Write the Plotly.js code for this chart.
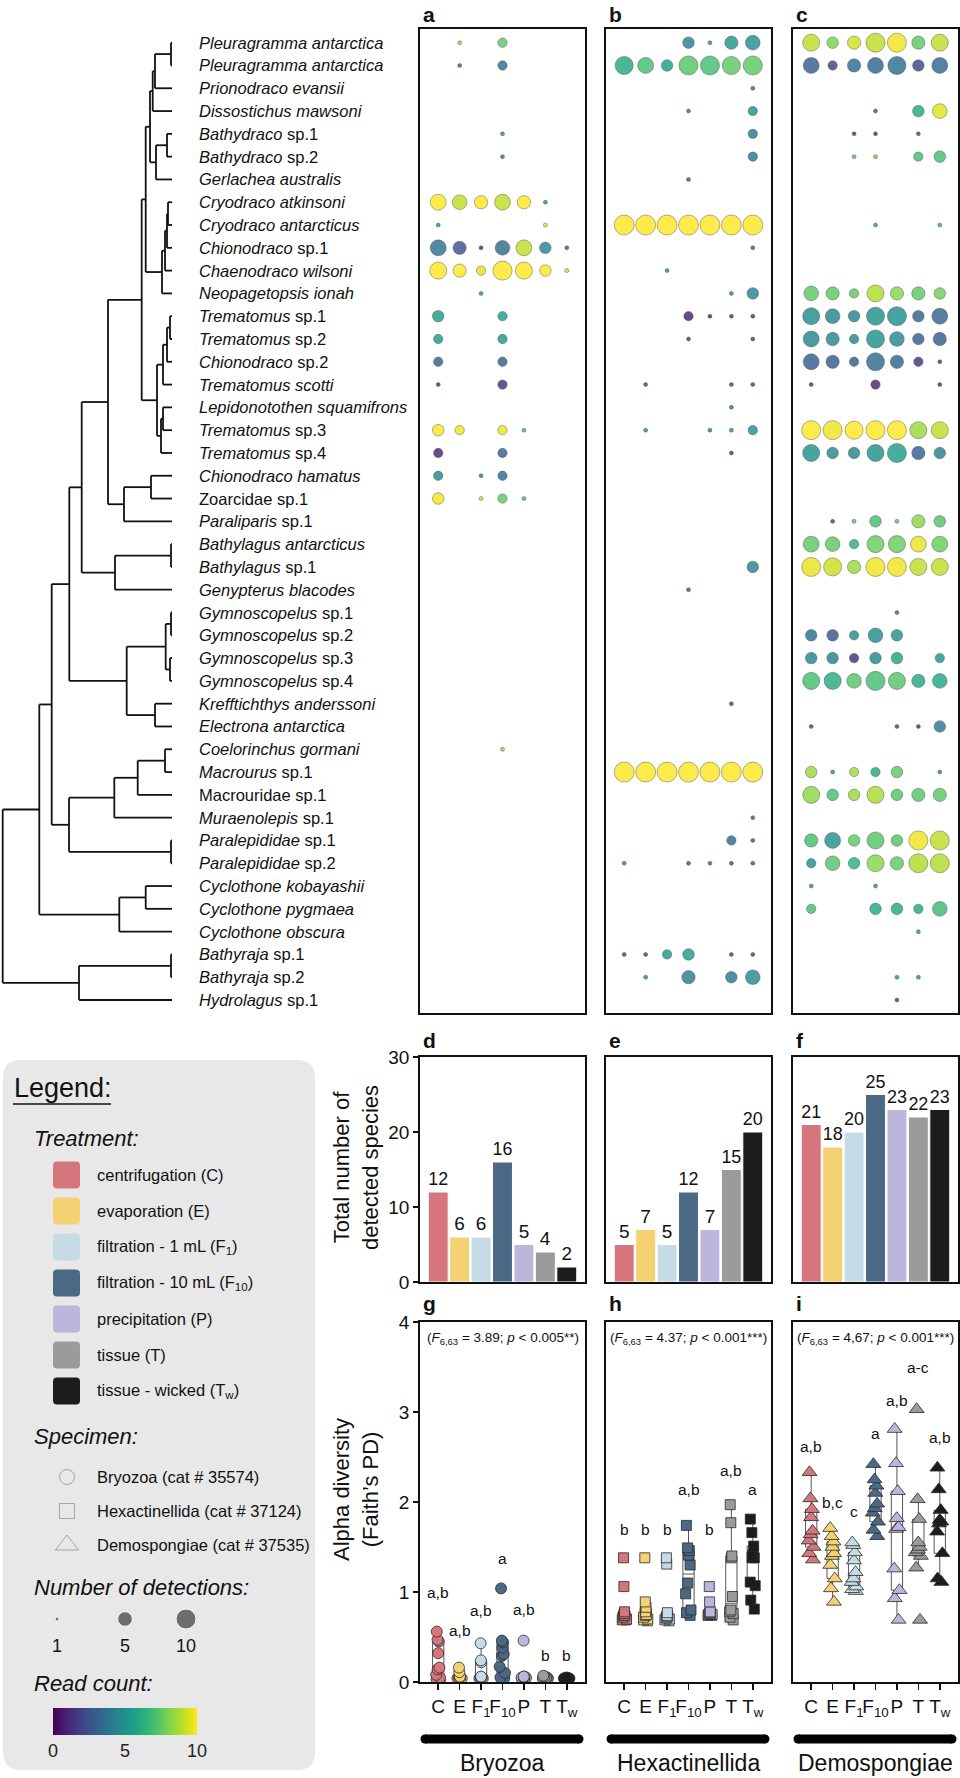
<!DOCTYPE html>
<html><head><meta charset="utf-8">
<script src="https://cdn.plot.ly/plotly-3.0.1.min.js"></script>
<style>html,body{margin:0;padding:0;background:#fff}</style>
</head><body><div id="chart" style="width:960px;height:1778px"></div>
<script>
// ---------------- DATA ----------------
const treatmentTicks = ['C','E','F<sub>1</sub>','F<sub>10</sub>','P','T','T<sub>w</sub>'];
const treatmentNames = ['centrifugation (C)','evaporation (E)','filtration - 1 mL (F<sub>1</sub>)',
  'filtration - 10 mL (F<sub>10</sub>)','precipitation (P)','tissue (T)','tissue - wicked (T<sub>w</sub>)'];
const treatmentColors = ['#d5767c','#f4d172','#c5dbe5','#4b6985','#bdb5db','#9b9b9b','#1c1c1c'];

const species = [
 '<i>Pleuragramma antarctica</i>','<i>Pleuragramma antarctica</i>','<i>Prionodraco evansii</i>',
 '<i>Dissostichus mawsoni</i>','<i>Bathydraco</i> sp.1','<i>Bathydraco</i> sp.2','<i>Gerlachea australis</i>',
 '<i>Cryodraco atkinsoni</i>','<i>Cryodraco antarcticus</i>','<i>Chionodraco</i> sp.1','<i>Chaenodraco wilsoni</i>',
 '<i>Neopagetopsis ionah</i>','<i>Trematomus</i> sp.1','<i>Trematomus</i> sp.2','<i>Chionodraco</i> sp.2',
 '<i>Trematomus scotti</i>','<i>Lepidonotothen squamifrons</i>','<i>Trematomus</i> sp.3','<i>Trematomus</i> sp.4',
 '<i>Chionodraco hamatus</i>','Zoarcidae sp.1','<i>Paraliparis</i> sp.1','<i>Bathylagus antarcticus</i>',
 '<i>Bathylagus</i> sp.1','<i>Genypterus blacodes</i>','<i>Gymnoscopelus</i> sp.1','<i>Gymnoscopelus</i> sp.2',
 '<i>Gymnoscopelus</i> sp.3','<i>Gymnoscopelus</i> sp.4','<i>Krefftichthys anderssoni</i>','<i>Electrona antarctica</i>',
 '<i>Coelorinchus gormani</i>','<i>Macrourus</i> sp.1','Macrouridae sp.1','<i>Muraenolepis</i> sp.1',
 '<i>Paralepididae</i> sp.1','<i>Paralepididae</i> sp.2','<i>Cyclothone kobayashii</i>','<i>Cyclothone pygmaea</i>',
 '<i>Cyclothone obscura</i>','<i>Bathyraja</i> sp.1','<i>Bathyraja</i> sp.2','<i>Hydrolagus</i> sp.1'];

// cladogram: [node depth, children...]; integers are leaf rows
const tree = [2.7,
  [39.3,
    [51.7,
      [69.3,
        [81.7,
          [108,
            [141.7,
              [145.7,
                [150,
                  [152.7, [155, [171, 0, 1], 2], 3],
                  [156, [167, 4, 5], 6]],
                [162, [165, [167, [168, 7, 8], 9], 10], 11]],
              [157,
                [163, [167, [170, 12, 13], 14], 15],
                [161, [163, 16, 17], 18]]],
            [124, [151, 19, 20], 21]],
          [115, [171, 22, 23], 24]],
        [126.7, [165.7, [171, 25, 26], [170, 27, 28]], [155, 29, 30]]],
      [69, [114.3, [137.7, [165, 31, 32], 33], 34], [171, 35, 36]]],
    [119.3, [145.7, 37, 38], 39]],
  [79, [171, 40, 41], 42]];
const leafDepth = 172;

// detections: [species row, treatment index, number of detections, read count]
const bryozoaDetections = [
 [0,1,1,8.5],[0,3,2,7.5],[1,1,1,3.5],[1,3,2,3.5],[4,3,1,5.5],[5,3,1,4],
 [7,0,6,10],[7,1,5,9],[7,2,4,10],[7,3,6,9],[7,4,4,10],[7,5,1,5],
 [8,0,1,5.5],[8,5,1,9.5],
 [9,0,6,3.8],[9,1,4,2.5],[9,2,1,1],[9,3,5,3.5],[9,4,6,9],[9,5,3,4.5],[9,6,1,3],
 [10,0,7,10],[10,1,4,10],[10,2,2,9.5],[10,3,9,10],[10,4,7,10],[10,5,3,10],[10,6,1,9.5],
 [11,2,1,5.5],[12,0,3,5.5],[12,3,2,5.5],[13,0,2,5.3],[13,3,2,5.3],[14,0,2,3],[14,3,2,3],
 [15,0,1,1.5],[15,3,2,1.5],[17,0,3,10],[17,1,2,9.8],[17,3,2,9.8],[17,4,1,7],
 [18,0,2,1],[18,3,2,3],[19,0,2,4.5],[19,2,1,4.5],[19,3,2,3.5],
 [20,0,3,9.8],[20,2,1,9],[20,3,2,7.5],[20,4,1,7],[31,3,1,8.5]];
const hexactinellidaDetections = [
 [0,3,3,4.3],[0,4,1,5],[0,5,4,5.3],[0,6,5,5],
 [1,0,8,6],[1,1,6,7],[1,2,3,5.5],[1,3,9,7.3],[1,4,9,7],[1,5,8,7.5],[1,6,9,7.5],
 [2,6,1,3.5],[3,3,1,4],[3,6,2,5],[4,6,2,4],[5,6,2,3.8],[6,3,1,3],
 [8,0,10,10],[8,1,10,10],[8,2,10,10],[8,3,10,10],[8,4,10,10],[8,5,10,10],[8,6,10,10],
 [9,6,1,3],[10,2,1,5],[11,5,1,5],[11,6,3,4.5],
 [12,3,2,1],[12,4,1,1],[12,5,1,1.5],[12,6,1,1.5],[13,3,1,1.5],[13,6,1,1.5],
 [15,1,1,2],[15,5,1,2],[15,6,1,2],[16,5,1,4],
 [17,1,1,5],[17,4,1,4.5],[17,5,1,5],[17,6,2,5],[18,5,1,1.5],
 [23,6,3,4.5],[24,3,1,3],[29,5,1,2],
 [32,0,10,10],[32,1,10,10],[32,2,10,10],[32,3,10,10],[32,4,10,10],[32,5,10,10],[32,6,10,10],
 [34,6,1,3.5],[35,5,2,3.5],[35,6,1,2.5],
 [36,0,1,5],[36,3,1,2.5],[36,4,1,4],[36,5,1,2.5],[36,6,1,2.5],
 [40,0,1,2],[40,1,1,2],[40,2,2,5.5],[40,3,3,5.5],[40,5,1,2],[40,6,1,2],
 [41,1,1,5],[41,3,4,4.2],[41,5,3,4],[41,6,5,4.7]];
const demospongiaeDetections = [
 [0,0,7,9],[0,1,3,8],[0,2,4,9.3],[0,3,9,9],[0,4,9,9.8],[0,5,4,7.5],[0,6,7,9],
 [1,0,6,3],[1,1,2,2],[1,2,4,3.5],[1,3,6,3.2],[1,4,8,3.7],[1,5,3,2],[1,6,6,3.3],
 [3,3,1,2.5],[3,5,3,6],[3,6,5,9.5],[4,2,1,1.5],[4,3,1,1.5],[4,5,1,2],
 [5,2,1,7.5],[5,3,1,8],[5,5,2,7],[5,6,3,7],[8,3,1,6],[8,6,1,6.5],
 [11,0,5,7.5],[11,1,4,7.5],[11,2,2,7.5],[11,3,7,8.8],[11,4,4,8.2],[11,5,4,7.5],[11,6,3,7.8],
 [12,0,7,4.8],[12,1,5,4.5],[12,2,3,4.5],[12,3,8,5],[12,4,9,5],[12,5,3,3],[12,6,6,3.2],
 [13,0,6,4.5],[13,1,4,4.5],[13,2,2,4.5],[13,3,8,5],[13,4,5,4.7],[13,5,3,3],[13,6,4,3],
 [14,0,6,3],[14,1,4,2.8],[14,2,2,3],[14,3,8,3.5],[14,4,4,3.2],[14,5,2,1.5],[14,6,1,1.5],
 [15,0,1,1.5],[15,3,2,1],[15,6,1,1.5],
 [17,0,9,10],[17,1,9,9.8],[17,2,8,10],[17,3,9,10],[17,4,9,10],[17,5,7,8.5],[17,6,7,9],
 [18,0,7,5],[18,1,3,4.5],[18,2,3,4.5],[18,3,7,5],[18,4,9,5.5],[18,5,4,3],[18,6,3,4.3],
 [21,1,1,2],[21,2,1,7.5],[21,3,3,7],[21,4,1,7.5],[21,5,4,8.3],[21,6,3,7.3],
 [22,0,6,7.5],[22,1,5,7.5],[22,2,2,6.3],[22,3,7,7.7],[22,4,7,7.7],[22,5,6,9.7],[22,6,6,7.7],
 [23,0,9,9.7],[23,1,8,9.2],[23,2,4,8.5],[23,3,9,9.8],[23,4,9,9.8],[23,5,7,9],[23,6,7,9],
 [25,4,1,3.5],
 [26,0,3,3.7],[26,1,3,2.5],[26,2,2,4.8],[26,3,5,4.8],[26,4,3,5],
 [27,0,3,4.5],[27,1,3,4.3],[27,2,2,1.3],[27,3,3,4.6],[27,4,3,5.8],[27,6,2,5.3],
 [28,0,7,7],[28,1,7,6.2],[28,2,5,7.3],[28,3,9,7],[28,4,7,7.3],[28,5,4,6],[28,6,5,6],
 [30,0,1,2],[30,4,1,2],[30,5,1,1.5],[30,6,3,4],
 [32,0,3,8.5],[32,1,1,5],[32,2,2,8.5],[32,3,2,6],[32,4,3,7.5],[32,6,1,5],
 [33,0,7,8.3],[33,1,3,7],[33,2,3,8.5],[33,3,7,8.7],[33,4,3,7.3],[33,5,4,7.3],[33,6,4,7.5],
 [35,0,4,7],[35,1,6,5],[35,2,3,7.5],[35,3,7,7.3],[35,4,3,7.3],[35,5,9,9.8],[35,6,9,9],
 [36,0,2,5],[36,1,5,7.3],[36,2,3,6.3],[36,3,7,8.2],[36,4,4,7.5],[36,5,9,8.8],[36,6,9,8.8],
 [37,0,1,5],[37,3,1,5],
 [38,0,2,7],[38,3,3,6],[38,4,3,6],[38,5,2,6],[38,6,5,6.8],
 [39,5,1,5.5],[41,4,1,5.5],[41,5,1,5.5],[42,4,1,1.5]];

const bryozoaTotals = [12,6,6,16,5,4,2];
const hexactinellidaTotals = [5,7,5,12,7,15,20];
const demospongiaeTotals = [21,18,20,25,23,22,23];

const bryozoaPD = [
 [0.56,0.47,0.45,0.32,0.16,0.14,0.08,0.05,0.03,0.02],
 [0.16,0.11,0.06,0.05,0.05,0.05,0.05,0.04,0.04,0.04],
 [0.43,0.24,0.22,0.06,0.05,0.05,0.05,0.05,0.04,0.04],
 [1.04,0.46,0.44,0.38,0.31,0.29,0.17,0.10,0.05,0.04],
 [0.46,0.06,0.06,0.05,0.05,0.05,0.05,0.05,0.04,0.04],
 [0.07,0.06,0.05,0.05,0.05,0.05,0.04,0.04,0.03,0.03],
 [0.05,0.04,0.04,0.04,0.04,0.04,0.04,0.04,0.04,0.04]];
const hexactinellidaPD = [
 [1.38,1.06,0.78,0.76,0.74,0.74,0.72,0.70,0.69,0.69],
 [1.38,0.89,0.83,0.78,0.75,0.74,0.72,0.70,0.69,0.68],
 [1.38,1.31,0.77,0.74,0.73,0.72,0.71,0.70,0.69,0.68],
 [1.74,1.49,1.46,1.41,1.30,1.10,0.98,0.80,0.77,0.74],
 [1.06,0.89,0.78,0.77,0.76,0.76,0.75,0.75,0.74,0.74],
 [1.97,1.77,1.40,1.38,0.95,0.80,0.78,0.76,0.72,0.69],
 [1.81,1.66,1.51,1.41,1.38,1.38,1.11,1.07,0.91,0.81]];
const demospongiaePD = [
 [2.33,2.04,1.92,1.83,1.68,1.64,1.57,1.50,1.43,1.36],
 [1.71,1.62,1.56,1.50,1.43,1.40,1.30,1.15,1.04,0.89],
 [1.55,1.52,1.44,1.35,1.22,1.15,1.11,1.06,1.03,1.01],
 [2.42,2.25,2.18,2.10,1.98,1.93,1.88,1.78,1.69,1.62],
 [2.81,2.43,2.12,1.82,1.72,1.70,1.26,1.02,0.93,0.69],
 [3.03,2.03,1.81,1.55,1.50,1.47,1.44,1.40,1.27,0.69],
 [2.38,2.14,1.91,1.80,1.78,1.76,1.67,1.43,1.15,1.11]];

const bryozoaLetters = ['a,b','a,b','a,b','a','a,b','b','b'];
const bryozoaLetterY = [1.0,0.57,0.8,1.37,0.81,0.3,0.3];
const hexactinellidaLetters = ['b','b','b','a,b','b','a,b','a'];
const hexactinellidaLetterY = [1.70,1.70,1.70,2.14,1.70,2.35,2.14];
const demospongiaeLetters = ['a,b','b,c','c','a','a,b','a-c','a,b'];
const demospongiaeLetterY = [2.62,2.0,1.9,2.76,3.13,3.49,2.72];

const specimenNames = ['Bryozoa','Hexactinellida','Demospongiae'];
const specimenLegend = ['Bryozoa (cat # 35574)','Hexactinellida (cat # 37124)','Demospongiae (cat # 37535)'];
const anovaF = ['3.89','4.37','4,67'];
const anovaP = ['0.005**','0.001***','0.001***'];
const detectionLegend = [1,5,10];
const readTicks = [0,5,10];

// ---------------- LAYOUT / DRAW ----------------
const W = 960, H = 1778;
const FONT = "'Liberation Sans', Arial, Helvetica, sans-serif";
const fx = p => p / W;
const fy = p => 1 - p / H;
const detSize = n => 4 + 16 * Math.sqrt((n - 1) / 9);
const symbols = ['circle','square','triangle-up'];
const symSize = [11, 10, 13];

const colX = [[420,585],[606,771],[793,958]];
const rowsY = [29,1013], barsY = [1057,1282], boxesY = [1322,1682];
const catRange = [-0.85, 6.85];

const layout = {
  width: W, height: H, margin: {l:0,r:0,t:0,b:0},
  paper_bgcolor: '#fff', plot_bgcolor: 'rgba(0,0,0,0)',
  showlegend: false, hovermode: false, boxgap: 0.25, bargap: 0.07,
  font: {family: FONT, color: '#111'},
  coloraxis: {colorscale: 'Viridis', cmin: 0, cmax: 10,
    colorbar: {orientation: 'h', x: fx(125), xanchor: 'center', y: fy(1708), yanchor: 'top',
      len: 144, lenmode: 'pixels', thickness: 27, thicknessmode: 'pixels',
      tickvals: readTicks, ticks: '', tickfont: {size: 18, family: FONT, color: '#222'},
      outlinewidth: 0, xpad: 0, ypad: 0}},
  shapes: [], annotations: []
};
const traces = [];
const hiddenAxis = {visible: false, fixedrange: true};
const frame = {showline: true, mirror: true, linecolor: '#111', linewidth: 1.8, showgrid: false,
  zeroline: false, ticks: '', showticklabels: false, fixedrange: true};

// tree axis
layout.xaxis = Object.assign({}, hiddenAxis, {domain: [0, fx(175)], range: [0, 175]});
layout.yaxis = Object.assign({}, hiddenAxis, {domain: [fy(rowsY[1]), fy(rowsY[0])], range: [42.57, -0.6]});
// overlay axis in pixels
layout.xaxis11 = Object.assign({}, hiddenAxis, {domain: [0,1], range: [0, W], anchor: 'y11'});
layout.yaxis11 = Object.assign({}, hiddenAxis, {domain: [0,1], range: [H, 0], anchor: 'x11'});

// tree lines
const tx = [], ty = [];
function walk(node) {
  if (typeof node === 'number') return {x: leafDepth, y: node};
  const d = node[0];
  const kids = node.slice(1).map(walk);
  const y0 = kids[0].y, y1 = kids[kids.length - 1].y;
  tx.push(d, d, null); ty.push(y0, y1, null);
  kids.forEach(k => { tx.push(d, k.x, null); ty.push(k.y, k.y, null); });
  return {x: d, y: (y0 + y1) / 2};
}
walk(tree);
traces.push({type: 'scatter', mode: 'lines', x: tx, y: ty, xaxis: 'x', yaxis: 'y',
  line: {color: '#111', width: 1.8}, hoverinfo: 'skip'});
species.forEach((s, i) => layout.annotations.push({xref: 'paper', x: fx(197), yref: 'y', y: i,
  text: s, showarrow: false, xanchor: 'left', yanchor: 'middle', font: {size: 16.5, color: '#111'}}));

// panels
const detections = [bryozoaDetections, hexactinellidaDetections, demospongiaeDetections];
const totals = [bryozoaTotals, hexactinellidaTotals, demospongiaeTotals];
const pds = [bryozoaPD, hexactinellidaPD, demospongiaePD];
const letters = [bryozoaLetters, hexactinellidaLetters, demospongiaeLetters];
const letterY = [bryozoaLetterY, hexactinellidaLetterY, demospongiaeLetterY];
const panelLetters = [['a','d','g'],['b','e','h'],['c','f','i']];

for (let p = 0; p < 3; p++) {
  const dom = [fx(colX[p][0]), fx(colX[p][1])];
  const ia = 2 + p, ib = 5 + p, ic = 8 + p;
  // bubbles
  layout['xaxis' + ia] = Object.assign({}, frame, {domain: dom, range: catRange, anchor: 'y' + ia});
  layout['yaxis' + ia] = Object.assign({}, frame, {domain: [fy(rowsY[1]), fy(rowsY[0])], range: [42.57, -0.6], anchor: 'x' + ia});
  const det = detections[p];
  traces.push({type: 'scatter', mode: 'markers', xaxis: 'x' + ia, yaxis: 'y' + ia,
    x: det.map(d => d[1]), y: det.map(d => d[0]), hoverinfo: 'skip',
    marker: {size: det.map(d => detSize(d[2])), color: det.map(d => d[3]), coloraxis: 'coloraxis',
      opacity: 0.82, line: {color: 'rgba(40,40,40,0.55)', width: 0.8}}});
  // bars
  layout['xaxis' + ib] = Object.assign({}, frame, {domain: dom, range: catRange, anchor: 'y' + ib});
  layout['yaxis' + ib] = Object.assign({}, frame, {domain: [fy(barsY[1]), fy(barsY[0])], range: [0, 30], anchor: 'x' + ib});
  if (p === 0) Object.assign(layout['yaxis' + ib], {showticklabels: true, ticks: 'outside', ticklen: 5, tickwidth: 1.5,
    tickcolor: '#111', tickvals: [0,10,20,30], tickfont: {size: 19}});
  traces.push({type: 'bar', xaxis: 'x' + ib, yaxis: 'y' + ib, x: [0,1,2,3,4,5,6], y: totals[p],
    marker: {color: treatmentColors, line: {color: '#fff', width: 1}},
    text: totals[p].map(String), textposition: 'outside', cliponaxis: false,
    textfont: {size: 19, color: '#111'}, hoverinfo: 'skip'});
  // boxes
  layout['xaxis' + ic] = Object.assign({}, frame, {domain: dom, range: catRange, anchor: 'y' + ic,
    showticklabels: true, ticks: 'outside', ticklen: 6, tickwidth: 1.5, tickcolor: '#111', tickangle: 0,
    tickvals: [0,1,2,3,4,5,6], ticktext: treatmentTicks, tickfont: {size: 19}});
  layout['yaxis' + ic] = Object.assign({}, frame, {domain: [fy(boxesY[1]), fy(boxesY[0])], range: [0, 4], anchor: 'x' + ic});
  if (p === 0) Object.assign(layout['yaxis' + ic], {showticklabels: true, ticks: 'outside', ticklen: 5, tickwidth: 1.5,
    tickcolor: '#111', tickvals: [0,1,2,3,4], tickfont: {size: 19}});
  pds[p].forEach((vals, g) => {
    traces.push({type: 'box', xaxis: 'x' + ic, yaxis: 'y' + ic, x: vals.map(() => g), y: vals,
      boxpoints: 'all', jitter: 0.6, pointpos: 0, whiskerwidth: 0, fillcolor: '#fff',
      line: {color: '#555', width: 1}, hoverinfo: 'skip',
      marker: {symbol: symbols[p], size: symSize[p], color: treatmentColors[g], opacity: 1,
        line: {color: '#2a2a2a', width: 0.8}}});
    layout.annotations.push({xref: 'x' + ic, yref: 'y' + ic, x: g, y: letterY[p][g], text: letters[p][g],
      showarrow: false, font: {size: 15.5, color: '#111'}});
  });
  layout.annotations.push({xref: 'x' + ic, yref: 'y' + ic, x: 3, y: 3.82, showarrow: false,
    text: '(<i>F</i><sub>6,63</sub> = ' + anovaF[p] + '; <i>p</i> &lt; ' + anovaP[p] + ')',
    font: {size: 13.5, color: '#111'}});
  // panel letters
  [[14, 0], [1040, 1], [1303, 2]].forEach(([yy, k]) => layout.annotations.push({xref: 'x11', yref: 'y11',
    x: colX[p][0] + 1, y: yy, text: '<b>' + panelLetters[p][k] + '</b>', showarrow: false,
    xanchor: 'left', yanchor: 'middle', font: {size: 21, color: '#111'}}));
  // group bar + name
  const bx0 = colX[p][0] + 5, bx1 = colX[p][1] - 6, by = 1739, r = 4.5;
  layout.shapes.push({type: 'rect', xref: 'x11', yref: 'y11', x0: bx0, x1: bx1, y0: by - r, y1: by + r,
    fillcolor: '#000', line: {width: 0}});
  [bx0, bx1].forEach(cx => layout.shapes.push({type: 'circle', xref: 'x11', yref: 'y11',
    x0: cx - r, x1: cx + r, y0: by - r, y1: by + r, fillcolor: '#000', line: {width: 0}}));
  layout.annotations.push({xref: 'x11', yref: 'y11', x: (colX[p][0] + colX[p][1]) / 2, y: 1763,
    text: specimenNames[p], showarrow: false, font: {size: 23, color: '#111'}});
}

// y titles
layout.annotations.push({xref: 'x11', yref: 'y11', x: 356, y: 1168, textangle: -90, showarrow: false,
  text: 'Total number of<br>detected species', font: {size: 22, color: '#111'}});
layout.annotations.push({xref: 'x11', yref: 'y11', x: 356, y: 1490, textangle: -90, showarrow: false,
  text: 'Alpha diversity<br>(Faith\u2019s PD)', font: {size: 22, color: '#111'}});

// legend box
function roundRect(x0, y0, x1, y1, r) {
  return `M ${x0 + r},${y0} H ${x1 - r} Q ${x1},${y0} ${x1},${y0 + r} V ${y1 - r} Q ${x1},${y1} ${x1 - r},${y1} ` +
    `H ${x0 + r} Q ${x0},${y1} ${x0},${y1 - r} V ${y0 + r} Q ${x0},${y0} ${x0 + r},${y0} Z`;
}
layout.shapes.push({type: 'path', xref: 'x11', yref: 'y11', path: roundRect(3, 1060, 315, 1770, 18),
  fillcolor: '#e8e8e8', line: {width: 0}, layer: 'below'});
const leg = (x, y, text, size) => layout.annotations.push({xref: 'x11', yref: 'y11', x, y,
  text, showarrow: false, xanchor: 'left', yanchor: 'middle', font: {size, color: '#111'}});
leg(12, 1088, 'Legend:', 27);
layout.shapes.push({type: 'line', xref: 'x11', yref: 'y11', x0: 13, x1: 111, y0: 1104, y1: 1104, line: {color: '#111', width: 1.6}});
leg(32, 1138, '<i>Treatment:</i>', 22);
treatmentNames.forEach((t, i) => {
  const cy = 1175 + 36 * i;
  layout.shapes.push({type: 'path', xref: 'x11', yref: 'y11', path: roundRect(53, cy - 13.5, 80, cy + 13.5, 4),
    fillcolor: treatmentColors[i], line: {width: 0}});
  leg(95, cy, t, 16.5);
});
leg(32, 1436, '<i>Specimen:</i>', 22);
specimenLegend.forEach((s, i) => leg(95, 1477 + 34 * i, s, 16.5));
traces.push({type: 'scatter', mode: 'markers', xaxis: 'x11', yaxis: 'y11', x: [67, 67, 67], y: [1477, 1511, 1545],
  hoverinfo: 'skip', marker: {symbol: ['circle-open','square-open','triangle-up-open'], size: [15, 15, 20],
  color: '#8a8a8a', line: {width: 1}}});
leg(32, 1587, '<i>Number of detections:</i>', 22);
const dotX = [57, 125, 186];
traces.push({type: 'scatter', mode: 'markers', xaxis: 'x11', yaxis: 'y11', x: dotX, y: dotX.map(() => 1619),
  hoverinfo: 'skip', marker: {size: detectionLegend.map(detSize), color: '#3a3a3a'}});
detectionLegend.forEach((n, i) => layout.annotations.push({xref: 'x11', yref: 'y11', x: dotX[i], y: 1646,
  text: String(n), showarrow: false, font: {size: 18, color: '#111'}}));
leg(32, 1683, '<i>Read count:</i>', 22);
// read-count colorbar holder (shares the coloraxis)
traces.push({type: 'scatter', mode: 'markers', xaxis: 'x11', yaxis: 'y11', x: [-50], y: [-50], hoverinfo: 'skip',
  marker: {color: [0], coloraxis: 'coloraxis', size: 1}});

Plotly.newPlot('chart', traces, layout, {staticPlot: true, displayModeBar: false});
</script></body></html>
